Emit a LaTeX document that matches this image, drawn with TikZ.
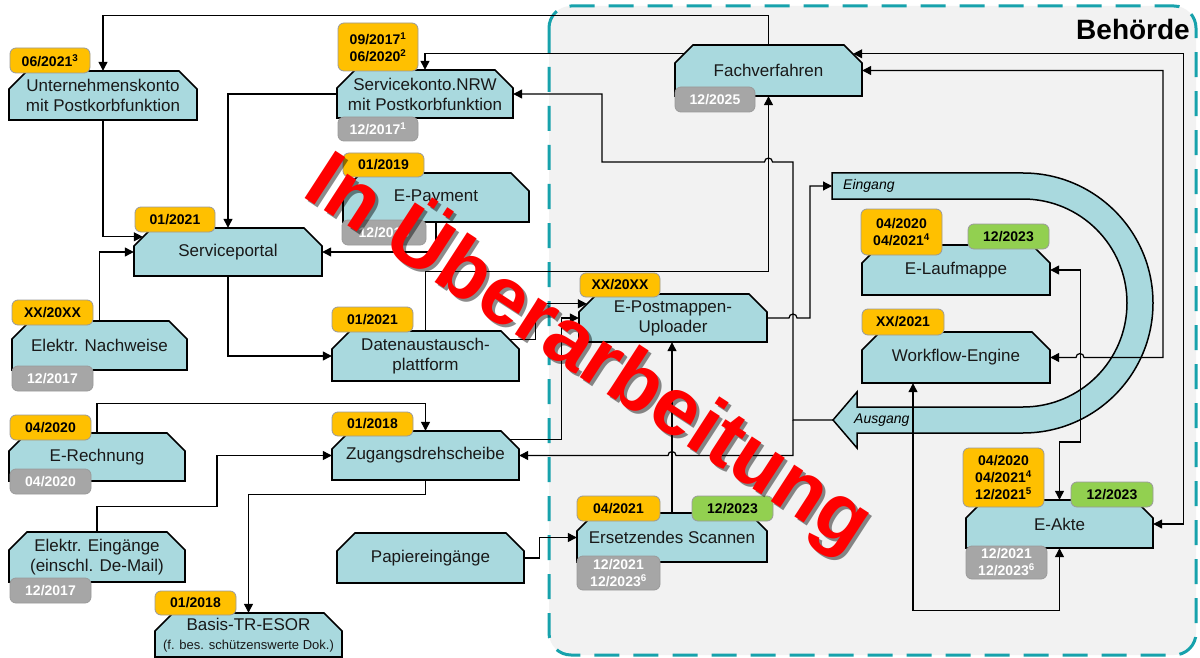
\documentclass[tikz,border=0pt]{standalone}
\usepackage{fontspec}
\setmainfont{Liberation Sans}
\usetikzlibrary{arrows.meta,calc}
\definecolor{boxfill}{HTML}{A9D9DE}
\definecolor{badgeorange}{HTML}{FFC000}
\definecolor{badgegray}{HTML}{A6A6A6}
\definecolor{badgegreen}{HTML}{92D050}
\definecolor{behbg}{HTML}{F2F2F2}
\definecolor{behline}{HTML}{17A2AC}
\definecolor{badgeedge}{HTML}{9A9A9A}
\pgfdeclarelayer{background}
\pgfdeclarelayer{connlayer}
\pgfdeclarelayer{foreground}
\pgfsetlayers{background,connlayer,main,foreground}
\tikzset{
 boxshape/.style={draw=black, line width=1.6pt, fill=boxfill, line join=miter},
 boxlabel/.style={inner sep=0pt, align=center, font=\fontsize{17}{20}\selectfont, text=black!90},
 badge/.style={draw=badgeedge, line width=0.8pt, rounded corners=6pt, inner sep=0pt, align=center, font=\fontsize{14}{17}\selectfont\bfseries},
 orangebadge/.style={badge, fill=badgeorange, text=black},
 graybadge/.style={badge, fill=badgegray, text=white},
 greenbadge/.style={badge, fill=badgegreen, text=black},
 conn/.style={draw=black, line width=1.2pt, -{Triangle[length=9pt,width=9pt]}},
 bconn/.style={draw=black, line width=1.2pt, {Triangle[length=9pt,width=9pt]}-{Triangle[length=9pt,width=9pt]}},
 bandtext/.style={font=\fontsize{14}{14}\selectfont\itshape, anchor=west, inner sep=0pt},
 redtext/.style={rotate=-33, font=\fontsize{82}{82}\selectfont\bfseries, inner sep=0pt},
}
\newcommand\chbox[6]{%
  \path[boxshape] (#2,#3+18) -- (#2+18,#3) -- (#4-18,#3) -- (#4,#3+18) -- (#4,#5) -- (#2,#5) -- cycle;
  \node[boxlabel, minimum width=#4-#2, minimum height=#5-#3] (#1) at ({(#2+#4)/2},{(#3+#5)/2}) {#6};
}
\newcommand\bdg[7]{%
  \node[#6, minimum width=#4-#2, minimum height=#5-#3] (#1) at ({(#2+#4)/2},{(#3+#5)/2}) {#7};
}
\begin{document}
\begin{tikzpicture}[x=1pt,y=-1pt]
\useasboundingbox (0,0) rectangle (1200,658);

\begin{pgfonlayer}{background}
\fill[white] (0,0) rectangle (1200,658);
\draw[behline, line width=3pt, dash pattern=on 25pt off 14pt, fill=behbg, rounded corners=22pt] (549,6) rectangle (1196,655);
\path[boxshape, line width=1.5pt] (832,173) -- (1023,173) arc[start angle=-90, end angle=90, radius=130] -- (857,433) -- (857,448) -- (833,420) -- (857,392) -- (857,407) -- (1023,407) arc[start angle=90, end angle=-90, radius=104] -- (832,199) -- cycle;
\end{pgfonlayer}
\coordinate (eing) at (832,186);
\coordinate (ausg) at (833,420);
\coordinate (jA) at (793,420);
\node[bandtext] (eingtxt) at (843,186) {Eingang};
\node[bandtext] (ausgtxt) at (854,420) {Ausgang};
\node[font=\fontsize{28}{28}\selectfont\bfseries, anchor=base east, inner sep=0pt] (beh) at (1190,40) {Behörde};

% boxes
\chbox{UK}{9}{71}{197}{120}{Unternehmenskonto\\mit Postkorbfunktion}
\chbox{SK}{337}{70}{513}{118}{Servicekonto.NRW\\mit Postkorbfunktion}
\chbox{FV}{675}{45}{862}{96}{Fachverfahren}
\chbox{EP}{343}{173}{529}{222}{E-Payment}
\chbox{SP}{134}{228}{322}{276}{Serviceportal}
\chbox{EN}{12}{321}{187}{370}{Elektr. Nachweise}
\chbox{DA}{332}{331}{519}{381}{Datenaustausch-\\plattform}
\chbox{PM}{579}{294}{767}{342}{E-Postmappen-\\Uploader}
\chbox{EL}{862}{245}{1050}{295}{E-Laufmappe}
\chbox{WE}{862}{332}{1050}{383}{Workflow-Engine}
\chbox{ER}{9}{433}{185}{481}{E-Rechnung}
\chbox{ZD}{332}{431}{519}{480}{Zugangsdrehscheibe}
\chbox{EE}{9}{532}{185}{582}{Elektr. Eingänge\\(einschl. De-Mail)}
\chbox{PE}{337}{533}{524}{583}{Papiereingänge}
\chbox{ES}{577}{513}{767}{562}{Ersetzendes Scannen}
\chbox{EA}{966}{500}{1153}{548}{E-Akte}
\chbox{BT}{155}{613}{342}{657}{Basis-TR-ESOR\\[-1pt]{\fontsize{13}{14}\selectfont(f. bes. schützenswerte Dok.)}}

% badges
\bdg{UKo}{10}{48}{90}{73}{orangebadge}{06/2021\textsuperscript{3}}
\bdg{SKo}{338}{23}{418}{71}{orangebadge}{09/2017\textsuperscript{1}\\06/2020\textsuperscript{2}}
\bdg{SKg}{338}{117}{418}{141}{graybadge}{12/2017\textsuperscript{1}}
\bdg{FVg}{675}{87}{755}{112}{graybadge}{12/2025}
\bdg{EPo}{343}{153}{424}{177}{orangebadge}{01/2019}
\bdg{EPg}{342}{220}{426}{245}{graybadge}{12/2018}
\bdg{SPo}{135}{207}{215}{232}{orangebadge}{01/2021}
\bdg{ENo}{12}{300}{93}{325}{orangebadge}{XX/20XX}
\bdg{ENg}{12}{366}{93}{391}{graybadge}{12/2017}
\bdg{DAo}{332}{307}{413}{332}{orangebadge}{01/2021}
\bdg{PMo}{580}{273}{660}{297}{orangebadge}{XX/20XX}
\bdg{ELo}{861}{209}{942}{255}{orangebadge}{04/2020\\04/2021\textsuperscript{4}}
\bdg{ELg}{968}{224}{1049}{249}{greenbadge}{12/2023}
\bdg{WEo}{862}{309}{944}{335}{orangebadge}{XX/2021}
\bdg{ERo}{10}{415}{91}{440}{orangebadge}{04/2020}
\bdg{ERg}{10}{469}{91}{494}{graybadge}{04/2020}
\bdg{ZDo}{332}{412}{413}{436}{orangebadge}{01/2018}
\bdg{EEg}{10}{578}{91}{603}{graybadge}{12/2017}
\bdg{ESo}{577}{496}{660}{521}{orangebadge}{04/2021}
\bdg{ESgr}{692}{496}{773}{521}{greenbadge}{12/2023}
\bdg{ESg}{577}{556}{660}{590}{graybadge}{12/2021\\12/2023\textsuperscript{6}}
\bdg{EAo}{963}{448}{1044}{507}{orangebadge}{04/2020\\04/2021\textsuperscript{4}\\12/2021\textsuperscript{5}}
\bdg{EAgr}{1071}{482}{1153}{507}{greenbadge}{12/2023}
\bdg{EAg}{966}{546}{1047}{579}{graybadge}{12/2021\\12/2023\textsuperscript{6}}
\bdg{BTo}{155}{591}{236}{615}{orangebadge}{01/2018}

% connectors
\begin{pgfonlayer}{connlayer}
\draw[conn] (FV.north) -- ++(0,-29) -| (UK.north);
\draw[conn] ($(FV.north west)+(9,9)$) -| (SK.north);
\draw[conn] (ausg) -- (jA) -- (793,162) -- (772.5,162) arc[start angle=0,end angle=-180,radius=4] -- (602,162) -- (602,94) -- (SK.east);
\draw[conn] (jA) -- (793,455.5) -- (676,455.5) arc[start angle=0,end angle=-180,radius=4] -- (ZD.east);
\draw[conn] (SK.west) -| (SP.north);
\draw[conn] (UK.south) |- ($(SP.north west)+(9,9)$);
\draw[conn] (EN.north) |- (SP.west);
\draw[conn] (EP.south) |- (SP.east);
\draw[conn] (SP.south) |- (DA.west);
\draw[conn] (DA.north) -- ++(0,-59) -| (FV.south);
\draw[conn] ($(DA.north east)+(-9,9)$) -- ++(25,0) |- ($(PM.north west)+(8,10)$);
\draw[conn] ($(ZD.north east)+(-9,9)$) -- ++(51,0) |- (PM.west);
\draw[conn] (PM.east) -- (789,318) arc[start angle=-180,end angle=0,radius=4] -- (810,318) |- (eing);
\draw[conn] (ES.north) -- (ES.north |- PM.south);
\draw[conn] (PE.east) -- ++(15,0) |- (ES.west);
\draw[conn] (ER.north) -- ++(0,-29) -| (ZD.north);
\draw[conn] (EE.north) -- ++(0,-25) -- ++(120,0) |- (ZD.west);
\draw[conn] (ZD.south) -- ++(0,14) -| (BT.north);
\draw[bconn] (WE.east) -- (1076,357.5) arc[start angle=-180,end angle=0,radius=4] -- (1163,357.5) |- (FV.east);
\draw[bconn] (EA.east) -- ++(30,0) |- ($(FV.north east)+(-9,9)$);
\draw[bconn] (EL.east) -- ++(30,0) -- ++(0,172) -| (EA.north);
\draw[bconn] ([xshift=-43pt]WE.south) -- ++(0,227) -| (EA.south);
\end{pgfonlayer}

\begin{pgfonlayer}{foreground}
\node[redtext, text=black, opacity=0.45] (uebs) at (593,355) {In Überarbeitung};
\node[redtext, text=red] (ueb) at (590,352) {In Überarbeitung};
\end{pgfonlayer}
\end{tikzpicture}
\end{document}
